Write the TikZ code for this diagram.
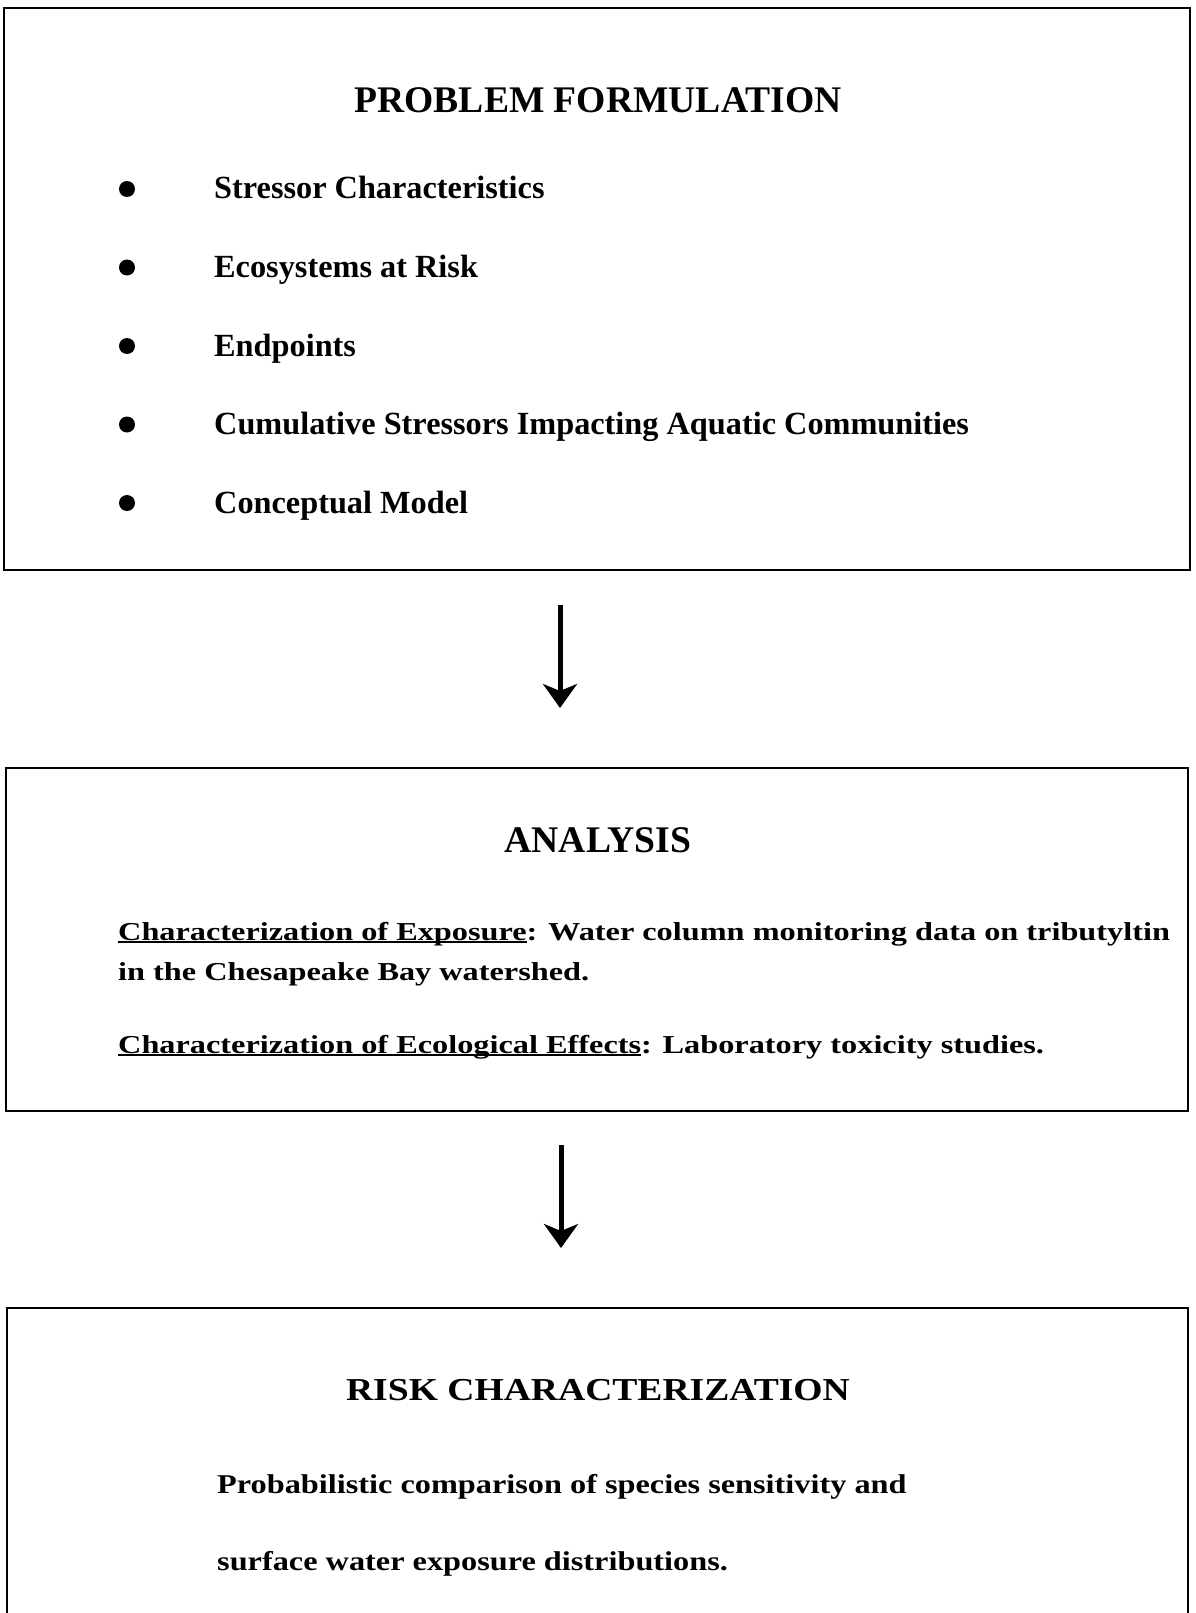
\documentclass[tikz,border=0pt]{standalone}
\usepackage{fontspec}
\setmainfont{Liberation Serif}
\usetikzlibrary{arrows.meta}
\newlength\ulw
\newcommand\myul[1]{\settowidth{\ulw}{#1}\makebox[0pt][l]{\rule[-3.5pt]{\ulw}{1.8pt}}#1}
\newcommand\titlefont{\bfseries\fontsize{37.6}{44}\selectfont}
\newcommand\itemfont{\bfseries\fontsize{32.3}{38}\selectfont}
\tikzset{
  frame/.style={draw=black, line width=2.6pt},
  ttl/.style={inner sep=0pt, anchor=base, font=\titlefont},
  itm/.style={inner sep=0pt, anchor=base west, font=\itemfont},
  dot/.style={circle, fill=black, inner sep=0pt, minimum size=16pt},
  flow/.style={line width=5pt, -{Stealth[length=24pt,width=34pt,inset=7pt]}}
}
\begin{document}
\begin{tikzpicture}[x=1pt,y=-1pt]
\useasboundingbox (0,0) rectangle (1195,1613);
\fill[white] (0,0) rectangle (1195,1613);
% Box 1
\draw[frame] (4,8) rectangle (1190,570);
\node[ttl] (t1) at (598,113) {PROBLEM FORMULATION};
\foreach \i/\txt in {0/Stressor Characteristics,1/Ecosystems at Risk,2/Endpoints,3/Cumulative Stressors Impacting Aquatic Communities,4/Conceptual Model}{
  \node[dot] (b\i) at (127,{189+78.5*\i}) {};
  \node[itm] (i\i) at (214,{199+78.5*\i}) {\txt};
}
% Arrow 1
\coordinate (a1s) at (560,605);
\coordinate (a1e) at (560,708);
\draw[flow] (a1s) -- (a1e);
% Box 2
\draw[frame] (6,768) rectangle (1188,1111);
\node[ttl] (t2) at (598,852.7) {ANALYSIS};
\node[itm] (l1) at (118,940) {\scalebox{1}[0.8]{\myul{Characterization of Exposure}: Water column monitoring data on tributyltin}};
\node[itm] (l2) at (118,980) {\scalebox{1}[0.8]{in the Chesapeake Bay watershed.}};
\node[itm] (l3) at (118,1053) {\scalebox{1}[0.8]{\myul{Characterization of Ecological Effects}: Laboratory toxicity studies.}};
% Arrow 2
\coordinate (a2s) at (561,1145);
\coordinate (a2e) at (561,1248);
\draw[flow] (a2s) -- (a2e);
% Box 3 (bottom edge cut off by page)
\draw[frame] (7,1625) -- (7,1308) -- (1188,1308) -- (1188,1625);
\node[ttl] (t3) at (598,1400) {\scalebox{1}[0.85]{RISK CHARACTERIZATION}};
\node[itm] (r1) at (217,1493) {\scalebox{1}[0.84]{Probabilistic comparison of species sensitivity and}};
\node[itm] (r2) at (217,1570) {\scalebox{1}[0.84]{surface water exposure distributions.}};
\end{tikzpicture}
\end{document}
